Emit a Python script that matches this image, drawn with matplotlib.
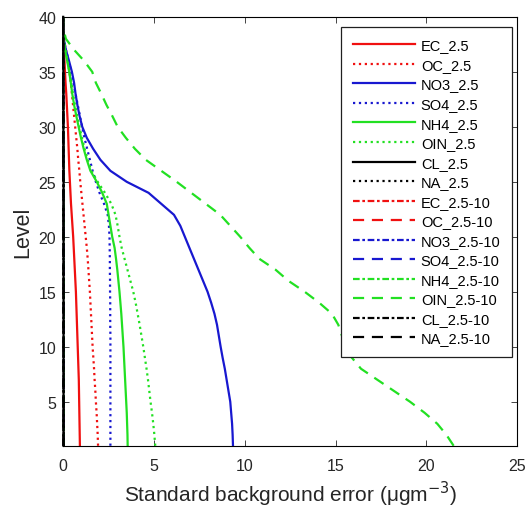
import matplotlib.pyplot as plt
import numpy as np

plt.rcParams['font.family'] = ['Liberation Sans', 'DejaVu Sans']

levels = list(range(1, 41))

# fine mode (2.5)
ec_25 = [0.92, 0.91, 0.90, 0.89, 0.88, 0.87, 0.86, 0.84, 0.82, 0.80,
         0.78, 0.76, 0.74, 0.72, 0.70, 0.67, 0.64, 0.61, 0.58, 0.55,
         0.51, 0.47, 0.43, 0.40, 0.37, 0.34, 0.32, 0.30, 0.28, 0.26,
         0.23, 0.20, 0.17, 0.13, 0.10, 0.07, 0.04, 0.01, 0.0, 0.0]
oc_25 = [1.92, 1.90, 1.87, 1.84, 1.80, 1.77, 1.73, 1.70, 1.66, 1.62,
         1.59, 1.56, 1.53, 1.50, 1.47, 1.43, 1.39, 1.35, 1.30, 1.24,
         1.18, 1.12, 1.06, 1.00, 0.94, 0.89, 0.83, 0.78, 0.72, 0.66,
         0.60, 0.54, 0.48, 0.42, 0.35, 0.26, 0.15, 0.03, 0.0, 0.0]
no3_25 = [9.35, 9.33, 9.30, 9.25, 9.20, 9.10, 9.00, 8.90, 8.78, 8.67,
          8.57, 8.47, 8.33, 8.15, 7.95, 7.70, 7.45, 7.20, 6.95, 6.70,
          6.45, 6.10, 5.40, 4.70, 3.50, 2.60, 2.05, 1.65, 1.30, 1.05,
          0.90, 0.78, 0.68, 0.60, 0.48, 0.32, 0.15, 0.03, 0.0, 0.0]
so4_25 = [2.60, 2.60, 2.60, 2.60, 2.60, 2.60, 2.60, 2.60, 2.60, 2.60,
          2.60, 2.59, 2.59, 2.59, 2.58, 2.58, 2.57, 2.57, 2.56, 2.55,
          2.52, 2.45, 2.25, 2.00, 1.80, 1.62, 1.47, 1.32, 1.17, 1.04,
          0.92, 0.80, 0.68, 0.56, 0.44, 0.30, 0.15, 0.03, 0.0, 0.0]
nh4_25 = [3.55, 3.54, 3.52, 3.50, 3.47, 3.44, 3.41, 3.38, 3.35, 3.32,
          3.28, 3.24, 3.20, 3.15, 3.10, 3.04, 2.98, 2.91, 2.83, 2.70,
          2.60, 2.50, 2.40, 2.15, 1.85, 1.50, 1.30, 1.13, 0.98, 0.85,
          0.72, 0.60, 0.50, 0.42, 0.33, 0.22, 0.10, 0.02, 0.0, 0.0]
oin_25 = [5.07, 5.02, 4.96, 4.89, 4.81, 4.74, 4.67, 4.59, 4.50, 4.41,
          4.31, 4.21, 4.10, 3.99, 3.86, 3.70, 3.54, 3.38, 3.22, 3.10,
          3.00, 2.88, 2.65, 2.30, 1.90, 1.55, 1.35, 1.18, 1.03, 0.90,
          0.77, 0.65, 0.54, 0.45, 0.35, 0.24, 0.12, 0.02, 0.0, 0.0]
cl_25 = [0.02, 0.02, 0.02, 0.02, 0.02, 0.02, 0.02, 0.02, 0.02, 0.02,
         0.02, 0.02, 0.02, 0.02, 0.02, 0.02, 0.02, 0.02, 0.02, 0.02,
         0.02, 0.02, 0.02, 0.02, 0.02, 0.02, 0.02, 0.02, 0.01, 0.01,
         0.01, 0.01, 0.01, 0.01, 0.01, 0.01, 0.0, 0.0, 0.0, 0.0]
na_25 = [0.03, 0.03, 0.03, 0.03, 0.03, 0.03, 0.03, 0.03, 0.03, 0.03,
         0.03, 0.03, 0.03, 0.03, 0.03, 0.03, 0.03, 0.03, 0.02, 0.02,
         0.02, 0.02, 0.02, 0.02, 0.02, 0.02, 0.02, 0.02, 0.01, 0.01,
         0.01, 0.01, 0.01, 0.01, 0.01, 0.01, 0.0, 0.0, 0.0, 0.0]

# coarse mode (2.5-10), only OIN stands out from zero
ec_10 = [0.01, 0.01, 0.01, 0.01, 0.01, 0.01, 0.01, 0.01, 0.01, 0.01,
         0.01, 0.01, 0.01, 0.01, 0.01, 0.01, 0.01, 0.01, 0.01, 0.01,
         0.01, 0.01, 0.01, 0.01, 0.01, 0.01, 0.01, 0.01, 0.01, 0.01,
         0.0, 0.0, 0.0, 0.0, 0.0, 0.0, 0.0, 0.0, 0.0, 0.0]
oc_10 = [0.02, 0.02, 0.02, 0.02, 0.02, 0.02, 0.02, 0.02, 0.02, 0.02,
         0.02, 0.02, 0.02, 0.02, 0.02, 0.02, 0.02, 0.02, 0.02, 0.02,
         0.01, 0.01, 0.01, 0.01, 0.01, 0.01, 0.01, 0.01, 0.01, 0.01,
         0.01, 0.01, 0.0, 0.0, 0.0, 0.0, 0.0, 0.0, 0.0, 0.0]
no3_10 = [0.03, 0.03, 0.03, 0.03, 0.03, 0.03, 0.03, 0.03, 0.03, 0.03,
          0.03, 0.03, 0.03, 0.03, 0.03, 0.03, 0.03, 0.03, 0.02, 0.02,
          0.02, 0.02, 0.02, 0.02, 0.02, 0.02, 0.02, 0.01, 0.01, 0.01,
          0.01, 0.01, 0.01, 0.01, 0.0, 0.0, 0.0, 0.0, 0.0, 0.0]
so4_10 = [0.02, 0.02, 0.02, 0.02, 0.02, 0.02, 0.02, 0.02, 0.02, 0.02,
          0.02, 0.02, 0.02, 0.02, 0.02, 0.02, 0.02, 0.02, 0.02, 0.02,
          0.02, 0.01, 0.01, 0.01, 0.01, 0.01, 0.01, 0.01, 0.01, 0.01,
          0.01, 0.01, 0.01, 0.0, 0.0, 0.0, 0.0, 0.0, 0.0, 0.0]
nh4_10 = [0.03, 0.03, 0.03, 0.03, 0.03, 0.03, 0.03, 0.03, 0.03, 0.03,
          0.03, 0.03, 0.03, 0.03, 0.03, 0.03, 0.02, 0.02, 0.02, 0.02,
          0.02, 0.02, 0.02, 0.02, 0.02, 0.02, 0.01, 0.01, 0.01, 0.01,
          0.01, 0.01, 0.01, 0.01, 0.0, 0.0, 0.0, 0.0, 0.0, 0.0]
oin_10 = [21.5, 21.1, 20.6, 19.9, 19.1, 18.2, 17.3, 16.4, 15.9, 15.55,
          15.35, 15.15, 14.8, 14.1, 13.3, 12.4, 11.7, 10.8, 10.25, 9.75,
          9.2, 8.65, 7.85, 7.05, 6.25, 5.4, 4.55, 3.95, 3.45, 3.0,
          2.7, 2.38, 2.1, 1.8, 1.6, 1.15, 0.6, 0.15, 0.0, 0.0]
cl_10 = [0.01, 0.01, 0.01, 0.01, 0.01, 0.01, 0.01, 0.01, 0.01, 0.01,
         0.01, 0.01, 0.01, 0.01, 0.01, 0.01, 0.01, 0.01, 0.01, 0.01,
         0.01, 0.01, 0.01, 0.01, 0.01, 0.0, 0.0, 0.0, 0.0, 0.0,
         0.0, 0.0, 0.0, 0.0, 0.0, 0.0, 0.0, 0.0, 0.0, 0.0]
na_10 = [0.01, 0.01, 0.01, 0.01, 0.01, 0.01, 0.01, 0.01, 0.01, 0.01,
         0.01, 0.01, 0.01, 0.01, 0.01, 0.01, 0.01, 0.01, 0.01, 0.01,
         0.01, 0.01, 0.01, 0.01, 0.0, 0.0, 0.0, 0.0, 0.0, 0.0,
         0.0, 0.0, 0.0, 0.0, 0.0, 0.0, 0.0, 0.0, 0.0, 0.0]

RED = '#f01010'
BLUE = '#1818d0'
GREEN = '#22e022'
BLACK = '#000000'

dashdot = (0, (3.0, 1.2, 1.2, 1.2))
dashed = (0, (5.0, 3.5))

series = [
    ('EC_2.5', ec_25, RED, '-'),
    ('OC_2.5', oc_25, RED, ':'),
    ('NO3_2.5', no3_25, BLUE, '-'),
    ('SO4_2.5', so4_25, BLUE, ':'),
    ('NH4_2.5', nh4_25, GREEN, '-'),
    ('OIN_2.5', oin_25, GREEN, ':'),
    ('CL_2.5', cl_25, BLACK, '-'),
    ('NA_2.5', na_25, BLACK, ':'),
    ('EC_2.5-10', ec_10, RED, dashdot),
    ('OC_2.5-10', oc_10, RED, dashed),
    ('NO3_2.5-10', no3_10, BLUE, dashdot),
    ('SO4_2.5-10', so4_10, BLUE, dashed),
    ('NH4_2.5-10', nh4_10, GREEN, dashdot),
    ('OIN_2.5-10', oin_10, GREEN, dashed),
    ('CL_2.5-10', cl_10, BLACK, dashdot),
    ('NA_2.5-10', na_10, BLACK, dashed),
]

fig = plt.figure(figsize=(5.31, 5.10), dpi=100)
ax = fig.add_axes([0.119, 0.124, 0.855, 0.841])

for name, vals, color, ls in series:
    # the near-zero black lines sit on the left spine, let them show
    black = color == BLACK
    ax.plot(vals, levels, color=color, linestyle=ls, linewidth=1.6, label=name,
            clip_on=not black, zorder=3 if black else 2)

ax.set_xlim(0, 25)
ax.set_ylim(1, 40)
ax.set_xticks(np.arange(0, 26, 5))
ax.set_yticks(np.arange(5, 41, 5))
ax.tick_params(direction='in', top=True, right=True, labelsize=11.5,
               length=4, width=0.6, colors='#262626')
ax.tick_params(axis='x', pad=9)
ax.tick_params(axis='y', pad=5)
for sp in ax.spines.values():
    sp.set_linewidth(0.8)

ax.set_xlabel('Standard background error (\u03bcgm$^{-3}$)', fontsize=15,
              labelpad=4, color='#262626')
ax.set_ylabel('Level', fontsize=15.5, labelpad=4, color='#262626')

leg = ax.legend(loc='upper right', bbox_to_anchor=(0.989, 0.977), borderaxespad=0,
                fontsize=10.5, handlelength=4.25, labelspacing=0.38,
                handletextpad=0.4, borderpad=0.8, fancybox=False,
                framealpha=1, edgecolor='#202020')
leg.get_frame().set_linewidth(0.9)

plt.savefig('out.png', dpi=100)
